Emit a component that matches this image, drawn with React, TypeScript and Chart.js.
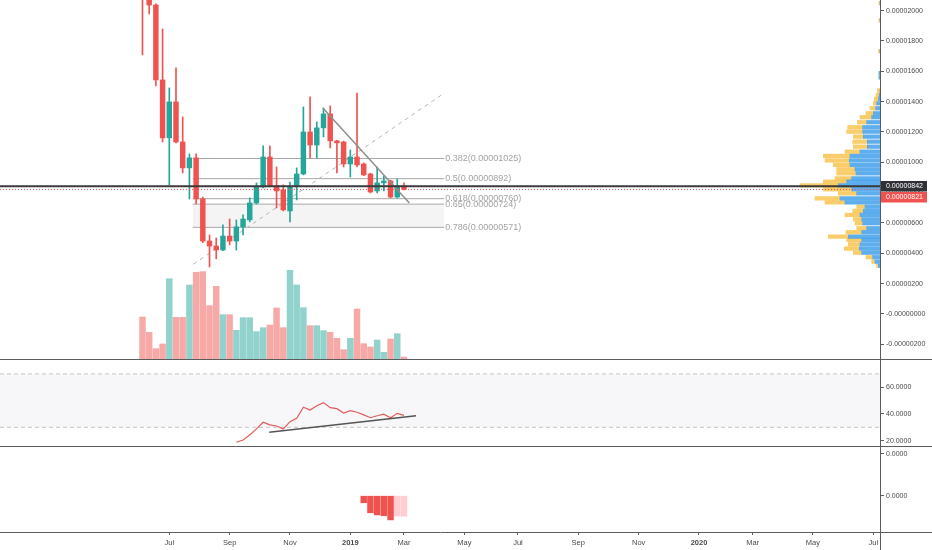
import React, { useEffect, useRef } from "react";
import { Chart, registerables } from "chart.js";

Chart.register(...registerables);

const FONT = "'Liberation Sans', Arial, sans-serif";
const AXIS_COLOR = "#5c5c5c";
const TEXT_COLOR = "#4a4a4a";
const UP = "#26a69a";
const DOWN = "#ef5350";

// ---- time axis (weekly bars, index 0 = first candle) ----
const xMin = -21.25;
const xMax = 110.0;
const tickWeeks = [4, 13, 22, 31, 39, 48, 56, 65, 74, 83, 91, 100, 109];
const tickLabels = ["Jul", "Sep", "Nov", "2019", "Mar", "May", "Jul", "Sep", "Nov", "2020", "Mar", "May", "Jul"];

// ---- weekly candles, prices in units of 1e-8 ----
const opens = [2200, 2120, 2037, 1543, 1161, 1398, 1134, 963, 1029, 758, 481, 448, 422, 514, 481, 574, 620, 732, 837, 1035, 844, 818, 679, 844, 923, 1200, 1114, 1227, 1319, 1141, 1134, 989, 1035, 989, 923, 811, 864, 877, 771, 844];
const highs = [2300, 2180, 2045, 1879, 1490, 1622, 1299, 1055, 1055, 770, 521, 501, 587, 626, 620, 653, 765, 864, 1108, 1108, 969, 851, 870, 963, 1365, 1431, 1266, 1358, 1372, 1145, 1140, 1081, 1457, 996, 928, 969, 910, 882, 890, 864];
const lows = [1708, 1978, 1503, 1134, 851, 1128, 930, 758, 725, 470, 310, 363, 418, 455, 422, 521, 607, 725, 831, 837, 699, 679, 607, 752, 917, 1029, 1029, 1167, 1095, 930, 969, 903, 969, 912, 798, 798, 811, 765, 765, 818];
const closes = [2120, 2037, 1543, 1161, 1398, 1134, 963, 1029, 758, 481, 448, 422, 514, 481, 574, 626, 732, 837, 1035, 844, 811, 686, 837, 923, 1200, 1114, 1227, 1319, 1141, 1128, 989, 1035, 983, 917, 804, 864, 877, 771, 844, 821];
const volumes = [126, 80, 31, 45, 241, 125, 125, 222, 260, 262, 160, 218, 133, 133, 86, 124, 124, 82, 94, 102, 153, 94, 266, 222, 154, 100, 100, 85, 80, 62, 28, 62, 150, 46, 36, 57, 20, 60, 76, 6];

const priceTicks = [-200, 0, 200, 400, 600, 800, 1000, 1200, 1400, 1600, 1800, 2000];
const pocPrice = 842;
const lastPrice = 821;

// ---- volume profile (rows, widths in px-units on hidden axis) ----
const vpPrices = [2050, 1935, 1733, 1588, 1560, 1473, 1444, 1418, 1389, 1356, 1323, 1297, 1264, 1231, 1202, 1169, 1136, 1103, 1070, 1042, 1012, 983, 954, 927, 894, 872, 848, 822, 795, 762, 736, 707, 679, 653, 624, 598, 565, 539, 510, 488, 459, 431, 404, 374, 345, 318];
const vpTotal = [1, 1, 1.5, 1, 1, 2.7, 4, 5.7, 6.7, 10, 14, 20, 22.7, 32.3, 33.3, 26.7, 27.3, 26.7, 35, 56.7, 55, 46.7, 43.3, 43.3, 45, 56.7, 80, 56.7, 41.7, 65, 55, 23.3, 27.3, 35, 26.7, 25, 23.3, 34, 51.7, 33.3, 31.7, 35.7, 26.7, 14, 8.3, 3.3];
const vpUp = [0, 0, 0, 1, 1, 0, 0.7, 1.7, 3.3, 4.3, 6.7, 8.3, 13.3, 17.3, 17.3, 16.7, 12.7, 12.7, 20, 30, 30.7, 30, 25, 24, 28.3, 33.3, 41.7, 28.3, 23.3, 40, 35, 15, 16.7, 20, 18.3, 17.3, 13.3, 18.3, 31.7, 18.3, 20, 20.7, 18.3, 7.3, 5, 1.7];

// ---- drawings ----
const fibLevels = ["0.382", "0.5", "0.618", "0.65", "0.786"];
const fibPrices = [1025, 892, 760, 724, 571];
const fibStart = 7.5;
const fibEnd = 45;
const fibDiagX = [7.6, 45];
const fibDiagY = [328, 1456];
const trendX = [26.9, 39.8];
const trendY = [1358, 732];

// ---- RSI ----
const rsiStart = 14;
const rsiValues = [18.8, 20.5, 24.3, 28.8, 33.8, 31.8, 31.0, 28.8, 34.2, 36.8, 45.0, 43.0, 46.2, 48.5, 44.7, 44.0, 40.7, 42.5, 41.3, 39.3, 37.2, 38.7, 39.8, 37.2, 40.5, 39.0];
const rsiTicks = [20, 40, 60];
const rsiUpper = 70;
const rsiLower = 30;
const rsiTrendX = [18.9, 40.8];
const rsiTrendY = [26.3, 38.7];

// ---- bottom oscillator (units of 1e-6) ----
const oscStart = 33;
const oscValues = [-1.7, -4.1, -4.6, -4.8, -5.8, -4.9, -4.9];
const oscColors = ["#ef5350", "#ef5350", "#ef5350", "#ef5350", "#ef5350", "#ffcdd2", "#ffcdd2"];
const oscTicks = [0, 10];

const fmtPrice = (v: number) => (v <= 0 ? "-" : "") + (Math.abs(v) / 1e8).toFixed(8);

const yAfterFit = (s: any) => {
  s.width = 52;
  s.paddingTop = 0;
  s.paddingBottom = 0;
};

const hiddenX = () => ({
  type: "linear",
  axis: "x",
  min: xMin,
  max: xMax,
  display: false,
  offset: false,
  grid: { offset: false },
});

const rightAxis = (min: number, max: number, ticks: number[], fmt: (v: number) => string) => ({
  type: "linear",
  axis: "y",
  position: "right",
  min,
  max,
  offset: false,
  afterBuildTicks: (s: any) => {
    s.ticks = ticks.map((v) => ({ value: v }));
  },
  afterFit: yAfterFit,
  ticks: {
    font: { family: FONT, size: 7 },
    color: TEXT_COLOR,
    padding: 2,
    callback: (v: any) => fmt(Number(v)),
  },
  grid: { display: true, drawOnChartArea: false, drawTicks: true, tickLength: 4, color: AXIS_COLOR, offset: false },
  border: { display: true, color: AXIS_COLOR, width: 1 },
});

const framePlugin = (top: boolean, bottomAxis: boolean) => ({
  id: "frame",
  afterDraw(chart: any) {
    const { ctx, width, height, chartArea } = chart;
    ctx.save();
    ctx.strokeStyle = AXIS_COLOR;
    ctx.lineWidth = 1;
    ctx.beginPath();
    if (top) {
      ctx.moveTo(0, 0.5);
      ctx.lineTo(width, 0.5);
    }
    if (bottomAxis) {
      const yb = Math.round(chartArea.bottom) + 0.5;
      ctx.moveTo(chartArea.right, yb);
      ctx.lineTo(width, yb);
      const xr = Math.round(chartArea.right) + 0.5;
      ctx.moveTo(xr, chartArea.bottom);
      ctx.lineTo(xr, height);
    }
    ctx.stroke();
    ctx.restore();
  },
});

const fibLabelPlugin = {
  id: "fibLabels",
  afterDatasetsDraw(chart: any) {
    const { ctx } = chart;
    const xs = chart.scales.x;
    const ys = chart.scales.y;
    ctx.save();
    ctx.font = `9px ${FONT}`;
    ctx.fillStyle = "#a3a3a3";
    ctx.textBaseline = "middle";
    ctx.textAlign = "left";
    const x = xs.getPixelForValue(fibEnd) + 1;
    fibLevels.forEach((lvl, k) => {
      ctx.fillText(`${lvl}(${fmtPrice(fibPrices[k])})`, x, ys.getPixelForValue(fibPrices[k]));
    });
    ctx.restore();
  },
};

const priceLabelPlugin = {
  id: "priceLabels",
  afterDraw(chart: any) {
    const { ctx, chartArea } = chart;
    const ys = chart.scales.y;
    const h = 10.5;
    const x0 = chartArea.right + 1;
    const w = 46;
    const c1 = ys.getPixelForValue(pocPrice);
    const c2 = Math.max(ys.getPixelForValue(lastPrice), c1 + h + 0.5);
    ctx.save();
    ctx.font = `7px ${FONT}`;
    ctx.textBaseline = "middle";
    ctx.textAlign = "left";
    ctx.fillStyle = "#2f3135";
    ctx.fillRect(x0, c1 - h / 2, w, h);
    ctx.fillStyle = "#ffffff";
    ctx.fillText(fmtPrice(pocPrice), x0 + 5, c1);
    ctx.fillStyle = DOWN;
    ctx.fillRect(x0, c2 - h / 2, w, h);
    ctx.fillStyle = "#ffffff";
    ctx.fillText(fmtPrice(lastPrice), x0 + 5, c2);
    ctx.restore();
  },
};

const baseOptions = {
  responsive: false,
  animation: false,
  events: [],
  layout: { padding: 0 },
  plugins: { legend: { display: false }, tooltip: { enabled: false } },
};

const hLine = (xa: number[], ya: number[], color: string, width: number, dash: number[], order: number, extra: any = {}) => ({
  type: "line",
  data: xa.map((x, k) => ({ x, y: ya[k] })),
  borderColor: color,
  borderWidth: width,
  borderDash: dash,
  pointRadius: 0,
  tension: 0,
  fill: false,
  order,
  ...extra,
});

function priceConfig() {
  const idx = opens.map((_, i) => i);
  const colors = idx.map((i) => (closes[i] >= opens[i] ? UP : DOWN));
  const volColors = idx.map((i) => (closes[i] >= opens[i] ? "rgba(38,166,154,0.5)" : "rgba(239,83,80,0.5)"));
  const datasets: any[] = [];
  datasets.push(hLine([xMin, xMax], [pocPrice, pocPrice], "#3a3a3a", 2, [], 30));
  datasets.push(hLine([xMin, xMax], [lastPrice, lastPrice], DOWN, 1, [1, 2], 20));
  datasets.push(hLine(trendX, trendY, "#8f8f8f", 1.5, [], 40));
  datasets.push({
    type: "bar",
    data: idx.map((i) => ({ x: i, y: [opens[i], closes[i]] })),
    backgroundColor: colors,
    barThickness: 4.8,
    minBarLength: 1,
    grouped: false,
    order: 50,
  });
  datasets.push({
    type: "bar",
    data: idx.map((i) => ({ x: i, y: [lows[i], highs[i]] })),
    backgroundColor: colors,
    barThickness: 1,
    grouped: false,
    order: 60,
  });
  datasets.push(hLine(fibDiagX, fibDiagY, "#b5b5b5", 1, [4, 4], 70));
  const fibIdx: number[] = [];
  fibPrices.forEach((p, k) => {
    fibIdx.push(datasets.length);
    const extra: any = {};
    if (k === 4) {
      extra.fill = fibIdx[3];
      extra.backgroundColor = "rgba(0,0,0,0.045)";
    }
    datasets.push(hLine([fibStart, fibEnd], [p, p], "#a8a8a8", 1, [], 80, extra));
  });
  datasets.push({
    type: "bar",
    indexAxis: "y",
    xAxisID: "xvp",
    yAxisID: "y",
    data: vpPrices.map((p, k) => ({ y: p, x: [0, vpUp[k]] })),
    backgroundColor: "rgba(66,160,235,0.85)",
    barThickness: 3.6,
    grouped: false,
    order: 90,
  });
  datasets.push({
    type: "bar",
    indexAxis: "y",
    xAxisID: "xvp",
    yAxisID: "y",
    data: vpPrices.map((p, k) => ({ y: p, x: [vpUp[k], vpTotal[k]] })),
    backgroundColor: "rgba(248,196,80,0.85)",
    barThickness: 3.6,
    grouped: false,
    order: 91,
  });
  datasets.push({
    type: "bar",
    yAxisID: "yv",
    data: idx.map((i) => ({ x: i, y: volumes[i] })),
    backgroundColor: volColors,
    barThickness: 5.8,
    grouped: false,
    order: 100,
  });
  return {
    type: "line",
    data: { datasets },
    options: {
      ...baseOptions,
      scales: {
        x: hiddenX(),
        xvp: { type: "linear", axis: "x", min: 0, max: 880, reverse: true, display: false, offset: false },
        y: rightAxis(-297, 2070, priceTicks, fmtPrice),
        yv: { type: "linear", axis: "y", min: 0, max: 1077, display: false, offset: false },
      },
    },
    plugins: [fibLabelPlugin, priceLabelPlugin],
  };
}

function rsiConfig() {
  const datasets: any[] = [];
  datasets.push(hLine([xMin, xMax], [rsiLower, rsiLower], "#c4c4c4", 1, [4, 3], 50));
  datasets.push(
    hLine([xMin, xMax], [rsiUpper, rsiUpper], "#c4c4c4", 1, [4, 3], 51, {
      fill: 0,
      backgroundColor: "rgba(120,100,160,0.06)",
    })
  );
  datasets.push({
    type: "line",
    data: rsiValues.map((v, k) => ({ x: rsiStart + k, y: v })),
    borderColor: "#e45b5b",
    borderWidth: 1.2,
    pointRadius: 0,
    tension: 0,
    fill: false,
    order: 20,
  });
  datasets.push(hLine(rsiTrendX, rsiTrendY, "#555555", 1.5, [], 10));
  return {
    type: "line",
    data: { datasets },
    options: {
      ...baseOptions,
      scales: {
        x: hiddenX(),
        y: rightAxis(16.0, 81.2, rsiTicks, (v) => v.toFixed(4)),
      },
    },
    plugins: [framePlugin(true, false)],
  };
}

function oscConfig() {
  const datasets: any[] = [
    {
      type: "bar",
      data: oscValues.map((v, k) => ({ x: oscStart + k, y: v })),
      backgroundColor: oscColors,
      barThickness: 5.8,
      grouped: false,
    },
  ];
  return {
    type: "line",
    data: { datasets },
    options: {
      ...baseOptions,
      scales: {
        x: {
          type: "linear",
          axis: "x",
          position: "bottom",
          min: xMin,
          max: xMax,
          offset: false,
          afterBuildTicks: (s: any) => {
            s.ticks = tickWeeks.map((v) => ({ value: v }));
          },
          afterFit: (s: any) => {
            s.height = 18;
            s.paddingLeft = 0;
            s.paddingRight = 0;
          },
          ticks: {
            autoSkip: false,
            maxRotation: 0,
            padding: 3,
            color: TEXT_COLOR,
            font: (c: any) => ({
              family: FONT,
              size: 7.5,
              weight: /^\d{4}$/.test(tickLabels[c.index] || "") ? "bold" : "normal",
            }),
            callback: (_v: any, i: number) => tickLabels[i],
          },
          grid: { display: true, drawOnChartArea: false, drawTicks: true, tickLength: 3, color: AXIS_COLOR, offset: false },
          border: { display: true, color: AXIS_COLOR, width: 1 },
        },
        y: rightAxis(-8.7, 11.9, oscTicks, (v) => (v / 1e6).toFixed(4)),
      },
    },
    plugins: [framePlugin(true, true)],
  };
}

export default function App() {
  const r1 = useRef<HTMLCanvasElement>(null);
  const r2 = useRef<HTMLCanvasElement>(null);
  const r3 = useRef<HTMLCanvasElement>(null);

  useEffect(() => {
    Chart.defaults.font.family = FONT;
    const charts: Chart[] = [];
    if (r1.current) charts.push(new Chart(r1.current, priceConfig() as any));
    if (r2.current) charts.push(new Chart(r2.current, rsiConfig() as any));
    if (r3.current) charts.push(new Chart(r3.current, oscConfig() as any));
    return () => charts.forEach((c) => c.destroy());
  }, []);

  return (
    <div style={{ position: "absolute", left: 0, top: 0, width: 932, height: 550, background: "#ffffff", overflow: "hidden" }}>
      <canvas ref={r1} width={932} height={359} style={{ position: "absolute", left: 0, top: 0 }} />
      <canvas ref={r2} width={932} height={87} style={{ position: "absolute", left: 0, top: 359 }} />
      <canvas ref={r3} width={932} height={104} style={{ position: "absolute", left: 0, top: 446 }} />
    </div>
  );
}
